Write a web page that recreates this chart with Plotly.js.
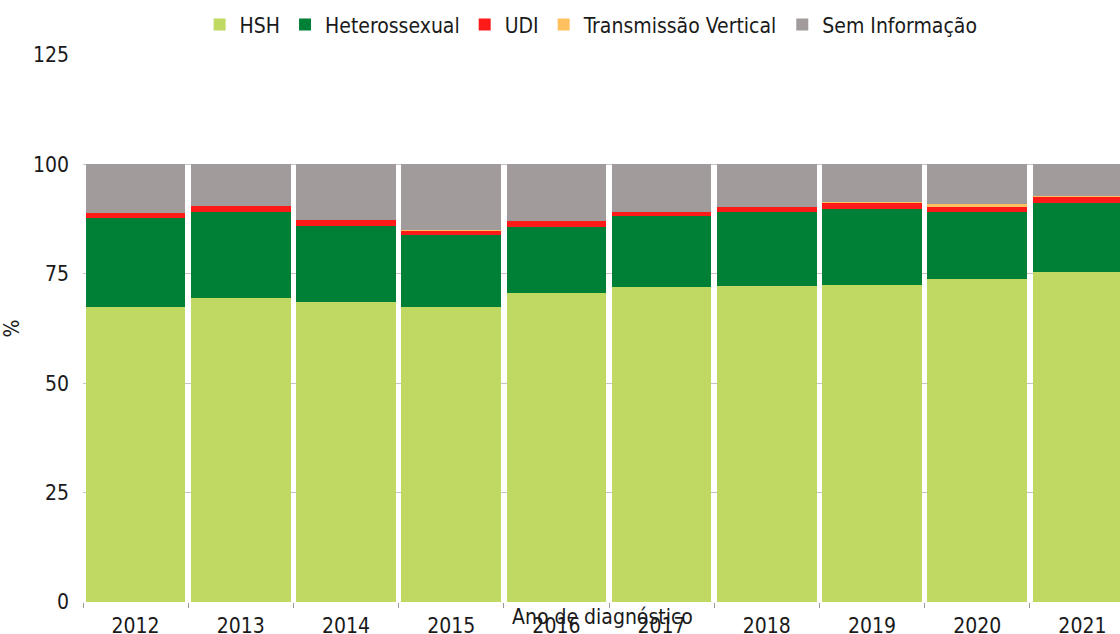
<!DOCTYPE html>
<html>
<head>
<meta charset="utf-8">
<script src="https://cdn.plot.ly/plotly-3.0.1.min.js"></script>
<style>
html,body{margin:0;padding:0;overflow:hidden;background:#fff;}
#chart{width:1140px;height:634px;}
</style>
</head>
<body>
<div id="chart"></div>
<script>
const years = ['2012','2013','2014','2015','2016','2017','2018','2019','2020','2021'];
const hsh = [67.5, 69.4, 68.6, 67.5, 70.5, 71.9, 72.3, 72.5, 73.7, 75.3];
const hetero = [20.2, 19.8, 17.3, 16.3, 15.3, 16.3, 16.9, 17.2, 15.4, 15.8];
const udi = [1.3, 1.2, 1.5, 1.2, 1.2, 1.0, 1.0, 1.7, 1.1, 1.6];
const transVertical = [0.0, 0.0, 0.0, 0.1, 0.0, 0.0, 0.0, 0.1, 0.7, 0.1];
const semInfo = [11.0, 9.6, 12.6, 14.9, 13.0, 10.8, 9.8, 8.5, 9.1, 7.2];

const seriesNames = ['HSH','Heterossexual','UDI','Transmissão Vertical','Sem Informação'];
const seriesValues = [hsh, hetero, udi, transVertical, semInfo];
const seriesColors = ['#c0d962','#007f37','#ff1a1a','#ffc060','#a19b9b'];

const FONT = '"Liberation Sans Narrow", "DejaVu Sans Condensed", Roboto, sans-serif';

const traces = seriesNames.map((n, i) => ({
  type: 'bar',
  name: n,
  x: years,
  y: seriesValues[i],
  marker: {color: seriesColors[i], line: {width: 0}},
  hoverinfo: 'x+y+name'
}));

const layout = {
  width: 1140,
  height: 634,
  margin: {l: 83, r: 5, t: 54, b: 32},
  barmode: 'stack',
  bargap: 0.053,
  paper_bgcolor: '#ffffff',
  plot_bgcolor: '#ffffff',
  font: {family: FONT, size: 21, color: '#1a1a1a'},
  showlegend: true,
  legend: {
    orientation: 'h',
    x: 0.483, xanchor: 'center',
    y: 1.053, yanchor: 'middle',
    font: {family: FONT, size: 21, color: '#1a1a1a'},
    traceorder: 'normal',
    itemclick: false
  },
  xaxis: {
    type: 'category',
    showgrid: false,
    zeroline: false,
    showline: false,
    ticks: 'outside',
    tickson: 'boundaries',
    ticklen: 5,
    tickcolor: '#999999',
    tickfont: {family: FONT, size: 21, color: '#1a1a1a'},
    ticklabelstandoff: 9,
    automargin: false
  },
  yaxis: {
    range: [0, 125],
    tickvals: [0, 25, 50, 75, 100, 125],
    ticktext: ['0','25','50','75','100','125'],
    showgrid: true,
    gridcolor: '#c4c4c4',
    gridwidth: 1,
    zeroline: false,
    showline: false,
    ticks: '',
    tickfont: {family: FONT, size: 21, color: '#1a1a1a'},
    ticklabelstandoff: 13,
    automargin: false,
    title: {text: '%', font: {family: FONT, size: 21, color: '#1a1a1a'}, standoff: 12}
  },
  annotations: [{
    text: 'Ano de diagnóstico',
    xref: 'paper', yref: 'paper',
    x: (602 - 83) / 1052, y: -(617 - 602) / 548,
    xanchor: 'center', yanchor: 'middle',
    showarrow: false,
    font: {family: FONT, size: 21, color: '#1a1a1a'}
  }]
};

Plotly.newPlot('chart', traces, layout, {displayModeBar: false, responsive: false});
</script>
</body>
</html>
